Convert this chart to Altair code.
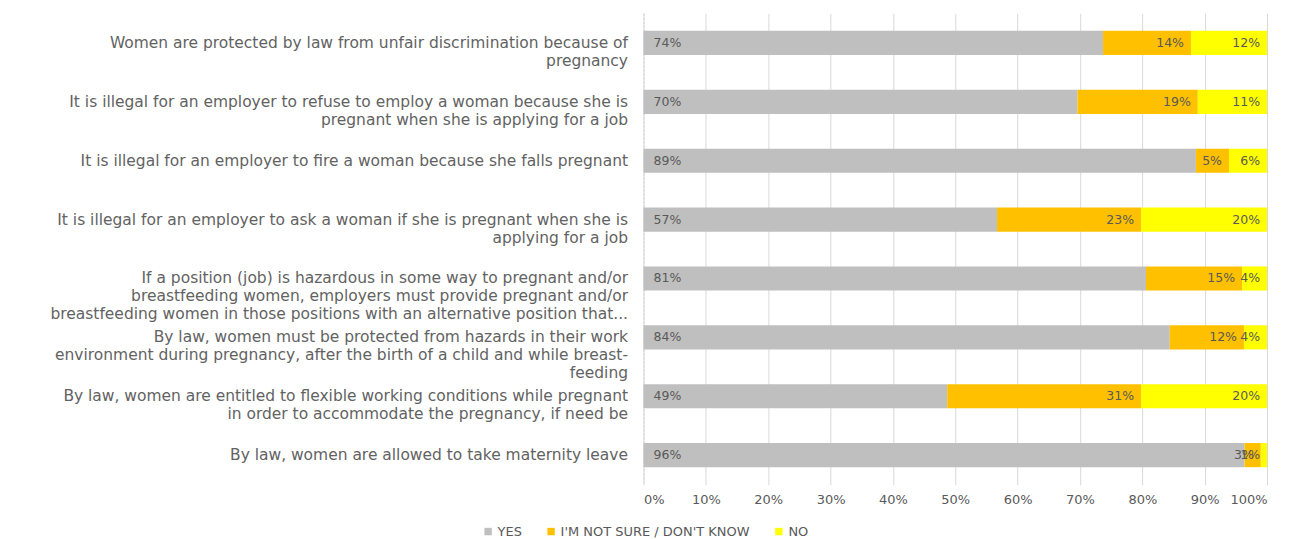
import altair as alt
import pandas as pd

questions = [
    "Women are protected by law from unfair discrimination because of|pregnancy",
    "It is illegal for an employer to refuse to employ a woman because she is|pregnant when she is applying for a job",
    "It is illegal for an employer to fire a woman because she falls pregnant",
    "It is illegal for an employer to ask a woman if she is pregnant when she is|applying for a job",
    "If a position (job) is hazardous in some way to pregnant and/or|breastfeeding women, employers must provide pregnant and/or|breastfeeding women in those positions with an alternative position that...",
    "By law, women must be protected from hazards in their work|environment during pregnancy, after the birth of a child and while breast-|feeding",
    "By law, women are entitled to flexible working conditions while pregnant|in order to accommodate the pregnancy, if need be",
    "By law, women are allowed to take maternity leave",
]
answers = ["YES", "I'M NOT SURE / DON'T KNOW", "NO"]
yes_vals = [73.7, 69.6, 88.6, 56.7, 80.6, 84.4, 48.7, 96.4]
notsure_vals = [14.1, 19.3, 5.3, 23.1, 15.4, 11.9, 31.1, 2.6]
no_vals = [12.2, 11.1, 6.1, 20.2, 4.0, 3.7, 20.2, 1.0]
colors = ["#BFBFBF", "#FFC000", "#FFFF00"]

rows = []
for q, a, b, c in zip(questions, yes_vals, notsure_vals, no_vals):
    for i, (ans, v) in enumerate(zip(answers, [a, b, c])):
        rows.append({"question": q, "answer": ans, "value": v, "order": i})
df = pd.DataFrame(rows)

FONT = "DejaVu Sans"
GREY = "#595959"

base = alt.Chart(df).transform_stack(
    stack="value", groupby=["question"], as_=["x0", "x1"],
    sort=[alt.SortField("order", order="ascending")]
).transform_calculate(
    lbl="format(datum.value, '.0f') + '%'"
)

y_enc = alt.Y(
    "question:N", sort=questions, title=None,
    scale=alt.Scale(paddingInner=0.59, paddingOuter=0.3),
    axis=alt.Axis(
        labelExpr="split(datum.label, '|')", labelAlign="right",
        labelFont=FONT, labelFontSize=15.5, labelColor="#626262",
        labelLineHeight=18, labelLimit=700, labelPadding=16,
        ticks=False, domain=True, domainColor="#D0D0D0", domainDash=[2, 2],
        grid=False,
    ),
)

bars = base.mark_bar().encode(
    x=alt.X("x0:Q", scale=alt.Scale(domain=[0, 100]), title=None,
            axis=alt.Axis(values=list(range(0, 101, 10)),
                          labelExpr="datum.value + '%'",
                          labelFont=FONT, labelFontSize=13, labelColor=GREY,
                          labelPadding=9, ticks=False, domain=False,
                          grid=True, gridColor="#D9D9D9", gridWidth=1)),
    x2="x1:Q",
    y=y_enc,
    color=alt.Color("answer:N", sort=answers,
                    scale=alt.Scale(domain=answers, range=colors),
                    legend=alt.Legend(
                        title=None, orient="none", direction="horizontal",
                        legendX=-162, legendY=512,
                        symbolType="square", symbolSize=55, symbolStrokeWidth=0,
                        labelFont=FONT, labelFontSize=13, labelColor=GREY,
                        labelLimit=400, columnPadding=22, labelOffset=3,
                    )),
)

yes_text = base.transform_filter("datum.order == 0").mark_text(
    align="left", dx=10, font=FONT, fontSize=12.5, color=GREY
).encode(x="x0:Q", y=alt.Y("question:N", sort=questions), text="lbl:N")

other_text = base.transform_filter("datum.order > 0").mark_text(
    align="right", dx=-7, font=FONT, fontSize=12.5, color=GREY
).encode(x="x1:Q", y=alt.Y("question:N", sort=questions), text="lbl:N")

chart = alt.layer(bars, yes_text, other_text).properties(
    width=624, height=472,
    autosize=alt.AutoSizeParams(type="none"),
    padding={"left": 636, "top": 5, "right": 20, "bottom": 56},
).configure_view(stroke=None)

chart.save("out.html", embed_options={"renderer": "svg", "actions": False})
